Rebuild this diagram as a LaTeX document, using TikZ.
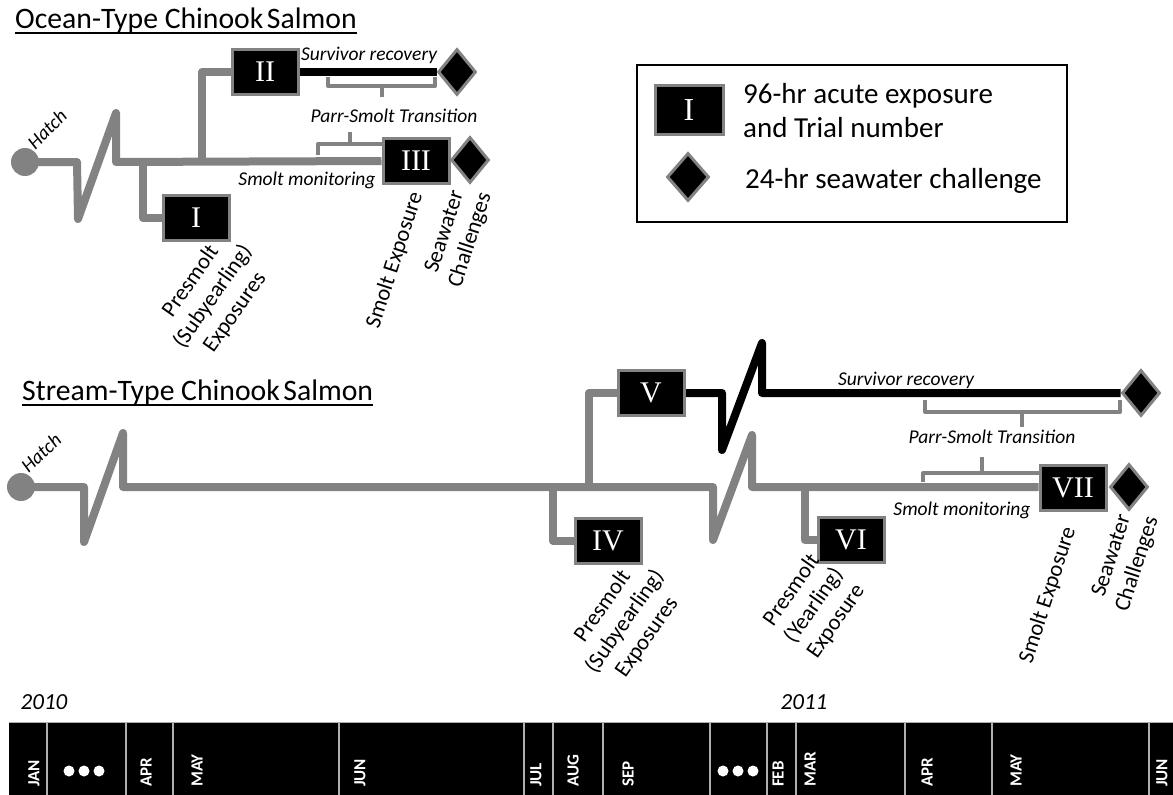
\documentclass[tikz,border=0pt]{standalone}
\usepackage{fontspec}
\setmainfont{Carlito}
\newfontfamily\numfont{Liberation Serif}
\usetikzlibrary{shapes.geometric}
\definecolor{lgray}{RGB}{130,130,130}
\definecolor{sepgray}{RGB}{175,175,175}
\pgfdeclarelayer{bg}
\pgfsetlayers{bg,main}
\begin{document}
\begin{tikzpicture}[x=1pt,y=-1pt,
  trial/.style={draw=lgray, line width=3, fill=black, text=white, minimum width=66, minimum height=45, inner sep=0, font=\numfont\fontsize{30}{30}\selectfont},
  swc/.style={diamond, draw=lgray, line width=3, fill=black, minimum width=38, minimum height=46, inner sep=0},
  hatch/.style={circle, fill=lgray, minimum size=28, inner sep=0},
  gline/.style={draw=lgray, line width=8, line join=round},
  bline/.style={draw=black, line width=8, line join=round},
  brk/.style={draw=lgray, line width=4, line join=round},
  ilab/.style={font=\fontsize{19.5}{21}\selectfont\itshape, inner sep=0},
  rlab/.style={font=\fontsize{22.5}{27}\selectfont, align=center, inner sep=0},
  title/.style={font=\fontsize{29.7}{31}\selectfont, inner sep=0, anchor=base west},
  month/.style={font=\fontsize{17}{17}\selectfont\bfseries, text=white, rotate=90, anchor=west, inner sep=0},
  year/.style={font=\fontsize{23}{23}\selectfont\itshape, inner sep=0},
  sep/.style={draw=sepgray, line width=2},
  dot/.style={circle, fill=white, minimum size=11, inner sep=0}
]
\useasboundingbox (0,0) rectangle (1173,795);

% ---------------- Ocean-type ----------------
\node[title] (ot) at (15,28) {Ocean-Type Chinook\hspace{0.12em}Salmon};
\draw[line width=1.6] ([yshift=-5pt]ot.base west) -- ([yshift=-5pt]ot.base east);

\node[hatch] (oh) at (25,162) {};
\node[ilab, rotate=45] (ohl) at (47,129) {Hatch};

\node[trial] (I) at (196,218) {I};
\node[trial] (II) at (265,72) {II};
\node[trial] (III) at (416,161) {III};
\node[swc] (d2) at (457,72) {};
\node[swc] (d3) at (470,160) {};

\coordinate (ob1) at (143,162);
\coordinate (ob2) at (202,162);

\begin{pgfonlayer}{bg}
\draw[gline] (oh.center) -- (77,162) -- (78,219) -- (116,113) -- (116,162) -- (III.west);
\draw[gline] (ob1) |- (I.west);
\draw[gline] (ob2) |- (II.west);
\draw[bline] (II.east) -- (d2.west);
\draw[brk] (328,77) -- (328,86) -- (435,86) -- (435,77);
\draw[brk] (382,86) -- (382,97);
\draw[brk] (318,155) -- (318,144) -- (385,144) -- (385,155);
\draw[brk] (350,144) -- (350,132);
\end{pgfonlayer}

\node[ilab] (osr) at (369,55) {Survivor recovery};
\node[ilab] (opt) at (394,116) {Parr-Smolt Transition};
\node[ilab] (osm) at (307,180) {Smolt monitoring};

\node[rlab, rotate=55] (opre) at (213,297) {Presmolt\\(Subyearling)\\Exposures};
\node[rlab, rotate=72] (ose) at (395,260) {Smolt Exposure};
\node[rlab, rotate=72] (osw) at (458,236) {Seawater\\Challenges};

% ---------------- Legend ----------------
\draw[line width=2.5] (637,65) rectangle (1067,222);
\node[trial, minimum width=68, minimum height=49, font=\numfont\fontsize{32}{32}\selectfont] (LI) at (689,110) {I};
\node[swc, minimum width=42, minimum height=48] (LD) at (688,177) {};
\node[font=\fontsize{29}{34}\selectfont, align=left, anchor=west, inner sep=0] (LT1) at (743,111) {96-hr acute exposure\\and Trial number};
\node[font=\fontsize{29}{34}\selectfont, anchor=base west, inner sep=0] (LT2) at (745,188) {24-hr seawater challenge};

% ---------------- Stream-type ----------------
\node[title] (st) at (22,400) {Stream-Type Chinook\hspace{0.12em}Salmon};
\draw[line width=1.6] ([yshift=-5pt]st.base west) -- ([yshift=-5pt]st.base east);

\node[hatch] (sh) at (21,487) {};
\node[ilab, rotate=43] (shl) at (41,453) {Hatch};

\node[trial] (IV) at (608,541) {IV};
\node[trial] (V) at (651,393) {V};
\node[trial] (VI) at (851,540) {VI};
\node[trial] (VII) at (1073,488) {VII};
\node[swc] (d5) at (1141,393) {};
\node[swc] (d7) at (1129,487) {};

\coordinate (sb1) at (553,487);
\coordinate (sb2) at (589,487);
\coordinate (sb3) at (805,487);

\begin{pgfonlayer}{bg}
\draw[gline] (sh.center) -- (84,487) -- (84,542) -- (123,433) -- (123,487) -- (713,487) -- (713,540) -- (752,435) -- (752,487) -- (VII.west |- 0,487);
\draw[gline] (sb1) |- (IV.west);
\draw[gline] (sb2) |- (V.west);
\draw[gline] (sb3) |- (VI.west);
\draw[bline] (V.east) -- (722,393) -- (722,450) -- (762,343) -- (762,393) -- (d5.west);
\draw[brk] (925,400) -- (925,412) -- (1120,412) -- (1120,400);
\draw[brk] (1022,412) -- (1022,427);
\draw[brk] (923,482) -- (923,473) -- (1042,473) -- (1042,482);
\draw[brk] (982,473) -- (982,457);
\end{pgfonlayer}

\node[ilab] (ssr) at (906,380) {Survivor recovery};
\node[ilab] (spt) at (992,437) {Parr-Smolt Transition};
\node[ilab] (ssm) at (962,510) {Smolt monitoring};

\node[rlab, rotate=55] (spre1) at (625,622) {Presmolt\\(Subyearling)\\Exposures};
\node[rlab, rotate=55] (spre2) at (814,606) {Presmolt\\(Yearling)\\Exposure};
\node[rlab, rotate=72] (sse) at (1048,595) {Smolt Exposure};
\node[rlab, rotate=72] (ssw) at (1125,560) {Seawater\\Challenges};

% ---------------- Timeline ----------------
\node[year] (y10) at (44,702) {2010};
\node[year] (y11) at (804,702) {2011};
\fill[black] (9,722) rectangle (1173,795);
\draw[sepgray, line width=1] (9,722) -- (1173,722);
\foreach \x in {47,126,173,339,524,553,603,710,767,796,905,992,1149} {
  \draw[sep] (\x,722) -- (\x,795);
}
\node[month] (mjan) at (34,787) {JAN};
\node[month] (mapr) at (146,787) {APR};
\node[month] (mmay) at (197,787) {MAY};
\node[month] (mjun) at (360,787) {JUN};
\node[month] (mjul) at (536,787) {JUL};
\node[month] (maug) at (573,787) {AUG};
\node[month] (msep) at (628,787) {SEP};
\node[month] (mfeb) at (778,787) {FEB};
\node[month] (mmar) at (810,787) {MAR};
\node[month] (mapr2) at (927,787) {APR};
\node[month] (mmay2) at (1016,787) {MAY};
\node[month] (mjun2) at (1162,787) {JUN};
\foreach \c [count=\i] in {84,738} {
  \node[dot] (da\i) at (\c-15,771) {};
  \node[dot] (db\i) at (\c,771) {};
  \node[dot] (dc\i) at (\c+15,771) {};
}
\end{tikzpicture}
\end{document}
